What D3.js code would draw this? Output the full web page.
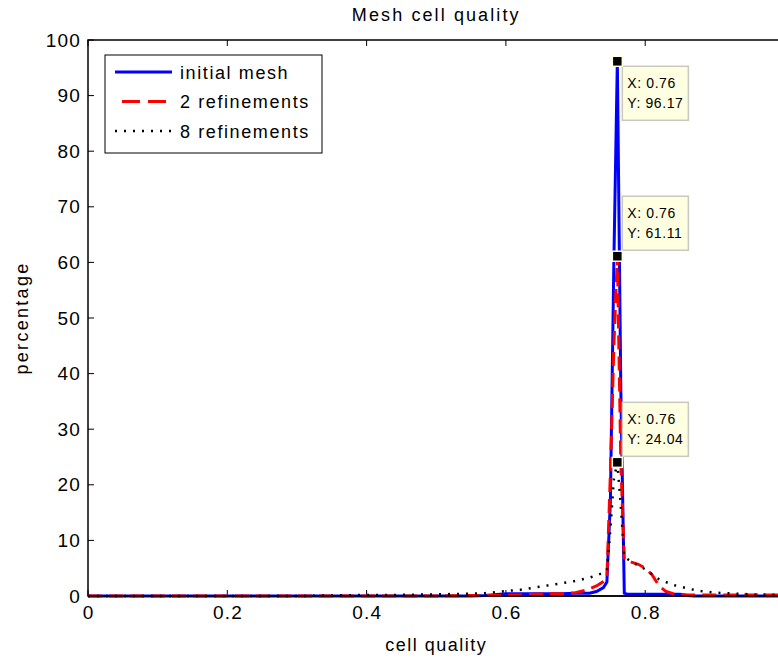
<!DOCTYPE html>
<html>
<head>
<meta charset="utf-8">
<script src="https://cdn.jsdelivr.net/npm/d3@7"></script>
<style>
  html, body { margin: 0; padding: 0; background: #fff; }
  svg { display: block; font-family: "Liberation Sans", Arial, Helvetica, sans-serif; }
</style>
</head>
<body>
<svg id="chart" width="778" height="660"></svg>
<script>
// ---- data ----
const title = "Mesh cell quality";
const xLabel = "cell quality";
const yLabel = "percentage";
const seriesNames = ["initial mesh", "2 refinements", "8 refinements"];

// bin centres (cell quality)
const quality = [0, 0.1, 0.2, 0.3, 0.35, 0.4, 0.45, 0.5, 0.55, 0.57, 0.6, 0.62, 0.64, 0.66, 0.68, 0.7,
  0.71, 0.72, 0.73, 0.74, 0.745, 0.75, 0.755, 0.76, 0.765, 0.77, 0.775, 0.78, 0.79, 0.8,
  0.81, 0.82, 0.83, 0.84, 0.85, 0.86, 0.87, 0.88, 0.9, 0.92, 0.95, 1.0];

// percentage of cells per bin
const initialMesh = [0, 0, 0, 0, 0, 0, 0, 0, 0, 0.1, 0.4, 0.4, 0.4, 0.4, 0.4, 0.5,
  0.5, 0.5, 0.8, 1.5, 2.5, 17, 60, 96.17, 37, 0.5, 0.3, 0.3, 0.3, 0.3,
  0.3, 0.3, 0.3, 0.3, 0.3, 0.1, 0, 0, 0, 0, 0, 0];
const refine2 = [0, 0, 0, 0, 0, 0, 0, 0, 0.1, 0.1, 0.1, 0.2, 0.3, 0.4, 0.4, 0.6,
  0.9, 1.3, 1.8, 2.6, 3.2, 22, 45, 61.11, 24, 6.6, 6.3, 6.1, 5.7, 5.0,
  3.8, 1.8, 0.8, 0.4, 0.3, 0.2, 0.2, 0.2, 0.2, 0.2, 0.2, 0.2];
const refine8 = [0, 0, 0, 0, 0.1, 0.2, 0.2, 0.3, 0.4, 0.5, 0.9, 1.1, 1.5, 1.9, 2.3, 2.7,
  3.0, 3.3, 3.7, 4.2, 4.6, 12, 21, 24.04, 16, 7.0, 6.6, 6.2, 5.5, 4.8,
  3.9, 3.0, 2.5, 2.0, 1.7, 1.4, 1.1, 0.9, 0.6, 0.5, 0.3, 0.2];

const xTicks = [0, 0.2, 0.4, 0.6, 0.8, 1];
const xTickLabels = ["0", "0.2", "0.4", "0.6", "0.8", ""];   // "1" falls outside the visible picture
const yTicks = [0, 10, 20, 30, 40, 50, 60, 70, 80, 90, 100];

// data tips
const tipX = [0.76, 0.76, 0.76];
const tipY = [96.17, 61.11, 24.04];

// ---- layout ----
const svg = d3.select("#chart");
const mLeft = 88, mTop = 40, plotW = 696.5, plotH = 556;
const x = d3.scaleLinear().domain([0, 1]).range([mLeft, mLeft + plotW]);
const y = d3.scaleLinear().domain([0, 100]).range([mTop + plotH, mTop]);

svg.append("rect").attr("width", 778).attr("height", 660).attr("fill", "#fff");

// frame
svg.append("rect").attr("x", mLeft).attr("y", mTop).attr("width", plotW).attr("height", plotH)
  .attr("fill", "none").attr("stroke", "#000").attr("stroke-width", 1.5);

// ticks (inward, on all four sides)
const tl = 6;
const g = svg.append("g").attr("stroke", "#000").attr("stroke-width", 1);
xTicks.forEach(t => {
  g.append("line").attr("x1", x(t)).attr("x2", x(t)).attr("y1", mTop + plotH).attr("y2", mTop + plotH - tl);
  g.append("line").attr("x1", x(t)).attr("x2", x(t)).attr("y1", mTop).attr("y2", mTop + tl);
});
yTicks.forEach(t => {
  g.append("line").attr("x1", mLeft).attr("x2", mLeft + tl).attr("y1", y(t)).attr("y2", y(t));
  g.append("line").attr("x1", mLeft + plotW).attr("x2", mLeft + plotW - tl).attr("y1", y(t)).attr("y2", y(t));
});

// tick labels
svg.append("g").selectAll("text").data(xTicks.filter((d, i) => xTickLabels[i] !== "")).join("text")
  .attr("x", d => x(d) + 0.6).attr("y", mTop + plotH + 23)
  .attr("text-anchor", "middle").attr("font-size", 19).attr("letter-spacing", 1.2)
  .text(d => xTickLabels[xTicks.indexOf(d)]);
svg.append("g").selectAll("text").data(yTicks).join("text")
  .attr("x", mLeft - 7).attr("y", d => y(d) + 6.5)
  .attr("text-anchor", "end").attr("font-size", 19).attr("letter-spacing", 1.2)
  .text(d => d);

// titles
svg.append("text").attr("x", mLeft + plotW / 2).attr("y", 21).attr("text-anchor", "middle")
  .attr("font-size", 18).attr("letter-spacing", 2.1).text(title);
svg.append("text").attr("x", mLeft + plotW / 2).attr("y", 651).attr("text-anchor", "middle")
  .attr("font-size", 18).attr("letter-spacing", 1.5).text(xLabel);
svg.append("text").attr("transform", `translate(28,${mTop + plotH / 2}) rotate(-90)`)
  .attr("text-anchor", "middle").attr("font-size", 18).attr("letter-spacing", 2.3).text(yLabel);

// series
const styles = [
  { color: "#0000ff", width: 3, dash: null },
  { color: "#ff0000", width: 3, dash: "14,7" },
  { color: "#000000", width: 2.5, dash: "2,7" }
];
const seriesData = [initialMesh, refine2, refine8];
const line = d3.line().x(d => x(d[0])).y(d => y(d[1]));
const plotG = svg.append("g");
seriesData.forEach((vals, i) => {
  const pts = quality.map((q, k) => [q, vals[k]]);
  plotG.append("path").attr("d", line(pts))
    .attr("fill", "none").attr("stroke", styles[i].color).attr("stroke-width", styles[i].width)
    .attr("stroke-dasharray", styles[i].dash).attr("stroke-linejoin", "miter");
});
// redraw bottom axis line on top of the curves
svg.append("line").attr("x1", mLeft).attr("x2", mLeft + plotW).attr("y1", mTop + plotH).attr("y2", mTop + plotH)
  .attr("stroke", "#000").attr("stroke-width", 1.5);

// legend
const lg = svg.append("g");
lg.append("rect").attr("x", 105).attr("y", 55).attr("width", 217).attr("height", 98)
  .attr("fill", "#fff").attr("stroke", "#000").attr("stroke-width", 1);
seriesNames.forEach((name, i) => {
  const yy = 72 + i * 29.5;
  lg.append("line").attr("x1", 115).attr("x2", 172).attr("y1", yy).attr("y2", yy)
    .attr("stroke", styles[i].color).attr("stroke-width", styles[i].width)
    .attr("stroke-dasharray", i === 1 ? "0,7,18,8,18,20" : styles[i].dash);
  lg.append("text").attr("x", 180).attr("y", yy + 6.5).attr("font-size", 18).attr("letter-spacing", 1.6).text(name);
});

// data tips
const tipG = svg.append("g");
tipX.forEach((tx, i) => {
  const px = x(tx), py = y(tipY[i]);
  const bw = 66, bh = 54;
  const by = (py - 6 - bh < mTop) ? py + 5 : py - 6 - bh;
  const bx = px + 5;
  tipG.append("rect").attr("x", bx).attr("y", by).attr("width", bw).attr("height", bh)
    .attr("fill", "#ffffe1").attr("stroke", "#c8c8c0").attr("stroke-width", 1.5);
  tipG.append("text").attr("x", bx + 5).attr("y", by + 22).attr("font-size", 14).attr("letter-spacing", 0.6)
    .text(`X: ${tx}`);
  tipG.append("text").attr("x", bx + 5).attr("y", by + 42).attr("font-size", 14).attr("letter-spacing", 0.6)
    .text(`Y: ${d3.format(".2f")(tipY[i])}`);
  tipG.append("rect").attr("x", px - 5).attr("y", py - 5).attr("width", 10).attr("height", 10)
    .attr("fill", "#000").attr("stroke", "#ffffe1").attr("stroke-width", 1.5);
});
</script>
</body>
</html>
